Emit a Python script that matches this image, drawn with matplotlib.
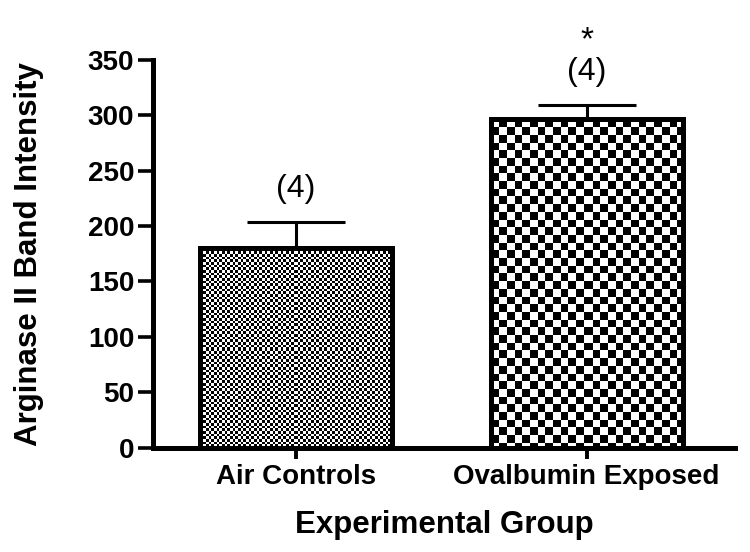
import numpy as np
import matplotlib
matplotlib.use("Agg")
import matplotlib.pyplot as plt

groups = ["Air Controls", "Ovalbumin Exposed"]
means = [180, 297]
sem = [24, 12]
n_labels = ["(4)", "(4)"]
sig_labels = ["", "*"]

yticks = [0, 50, 100, 150, 200, 250, 300, 350]

plt.rcParams['font.family'] = ['Liberation Sans', 'DejaVu Sans']

fig = plt.figure(figsize=(7.5, 5.52), dpi=100)
ax = fig.add_axes([0.204, 0.1893, 0.776, 0.702])

x = np.arange(len(groups))
bars = ax.bar(x, means, width=0.66, facecolor='none', edgecolor='black',
              linewidth=3.6, zorder=3)
ax.errorbar(x, means, yerr=[[0] * len(sem), sem], fmt='none', ecolor='black',
            elinewidth=2.2, capsize=35.6, capthick=2.2, zorder=2.5)

ax.set_xlim(-0.49, 1.51)
ax.set_ylim(0, 350)
ax.set_yticks(yticks)
ax.set_xticks(x)
ax.set_xticklabels(groups)

for s in ['top', 'right']:
    ax.spines[s].set_visible(False)
for s in ['left', 'bottom']:
    ax.spines[s].set_linewidth(3.6)
    ax.spines[s].set_capstyle('projecting')

ax.tick_params(axis='y', length=11, width=2.6, pad=2.5, labelsize=20)
ax.tick_params(axis='x', length=8, width=2.8, pad=4, labelsize=20)
for lab in ax.get_xticklabels() + ax.get_yticklabels():
    lab.set_fontweight('bold')

ax.set_ylabel("Arginase II Band Intensity", fontsize=22.5, fontweight='bold')
ax.set_xlabel("Experimental Group", fontsize=22.5, fontweight='bold')
ax.yaxis.set_label_coords(-0.188, 0.5)
ax.xaxis.set_label_coords(0.5, -0.16)

for xi, m, e, nl, sl in zip(x, means, sem, n_labels, sig_labels):
    ax.annotate(nl, (xi, m + e), xytext=(0, 18), textcoords='offset points',
                ha='center', va='baseline', fontsize=23, annotation_clip=False)
    if sl:
        ax.annotate(sl, (xi, m + e), xytext=(0, 40.7), textcoords='offset points',
                    ha='center', va='baseline', fontsize=24, annotation_clip=False)

# checkerboard fills
cell_px = [2.67, 7.7]
fig.canvas.draw()
for bar, cell in zip(bars, cell_px):
    bb = bar.get_window_extent()
    w = int(round(bb.width))
    h = int(round(bb.height))
    yy, xx = np.mgrid[0:h, 0:w]
    chk = ((xx / cell).astype(int) + (yy / cell).astype(int)) % 2
    x0 = bar.get_x()
    x1 = x0 + bar.get_width()
    im = ax.imshow(chk, cmap='gray_r', vmin=0, vmax=1, origin='upper',
                   extent=(x0, x1, 0, bar.get_height()), interpolation='nearest',
                   aspect='auto', zorder=2)
    im.set_clip_path(bar)

ax.set_xlim(-0.49, 1.51)
ax.set_ylim(0, 350)

fig.savefig("out.png", dpi=100)
